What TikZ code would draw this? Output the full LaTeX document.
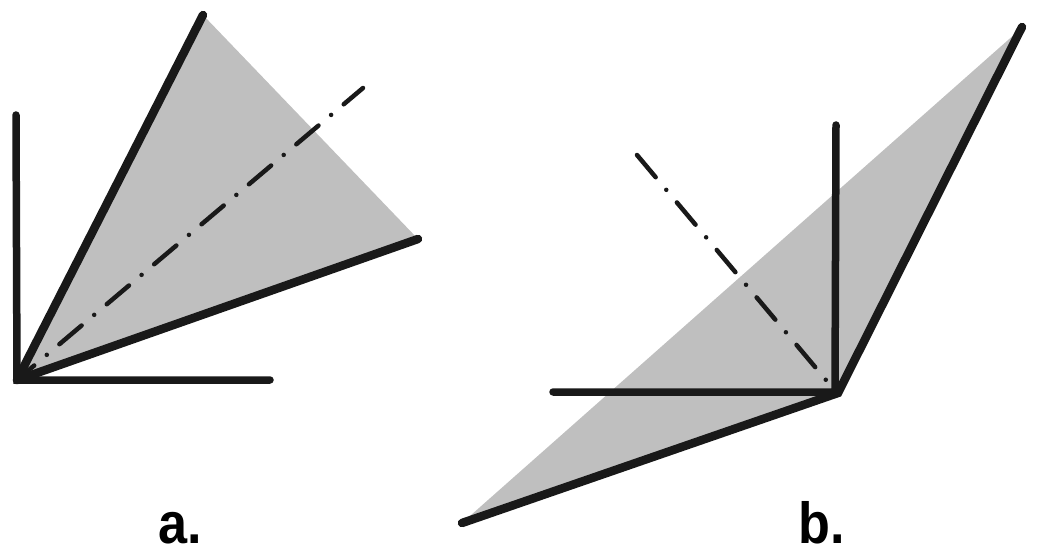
\documentclass[tikz,border=0pt]{standalone}
\usepackage{fontspec}
\setmainfont{Liberation Sans}
\definecolor{paneGray}{gray}{0.75}
\definecolor{ink}{gray}{0.1}
\begin{document}
\begin{tikzpicture}[x=1pt,y=-1pt,
  axis/.style={ink, line width=7.5, line cap=round},
  edge/.style={ink, line width=8.5, line cap=round, line join=miter},
  dashdot/.style={ink, line width=4.5, line cap=round,
    dash pattern=on 29pt off 16.5pt on 0pt off 16.5pt},
  tag/.style={anchor=base, inner sep=0pt, font=\fontsize{58}{58}\selectfont\bfseries}]
\useasboundingbox (0,0) rectangle (1039,559);
%\draw (0,0) grid (1039,559);

% a.
\coordinate (O) at (17,380);
\coordinate (A) at (203,15);
\coordinate (B) at (418,239);
\coordinate (Ay) at (16,115);
\coordinate (Ax) at (270,380);
\coordinate (Ad) at (363,88);

\fill[paneGray] (O) -- (A) -- (B) -- cycle;
\draw[dashdot, dash phase=6.5pt] (O) -- (Ad);
\draw[edge, line join=round] (A) -- (O) -- (B);
\draw[axis] (Ay) -- (O) -- (Ax);

% b.
\coordinate (C) at (838,393);
\coordinate (P) at (1022,27);
\coordinate (Q) at (462,523);
\coordinate (By) at (836,125);
\coordinate (Bx) at (553,392);
\coordinate (Bs) at (637,155);
\coordinate (Be) at (826,380);

\fill[paneGray] (Q) -- (1016,33) -- (C) -- cycle;
\draw[axis] (By) -- (835,392) -- (Bx);
\draw[dashdot] (Bs) -- (Be);
\draw[edge] (P) -- (C) -- (Q);

\node[tag] (la) at (180,543) {\scalebox{0.9}[1]{a.}};
\node[tag] (lb) at (822,543) {\scalebox{0.9}[1]{b.}};

\end{tikzpicture}
\end{document}
